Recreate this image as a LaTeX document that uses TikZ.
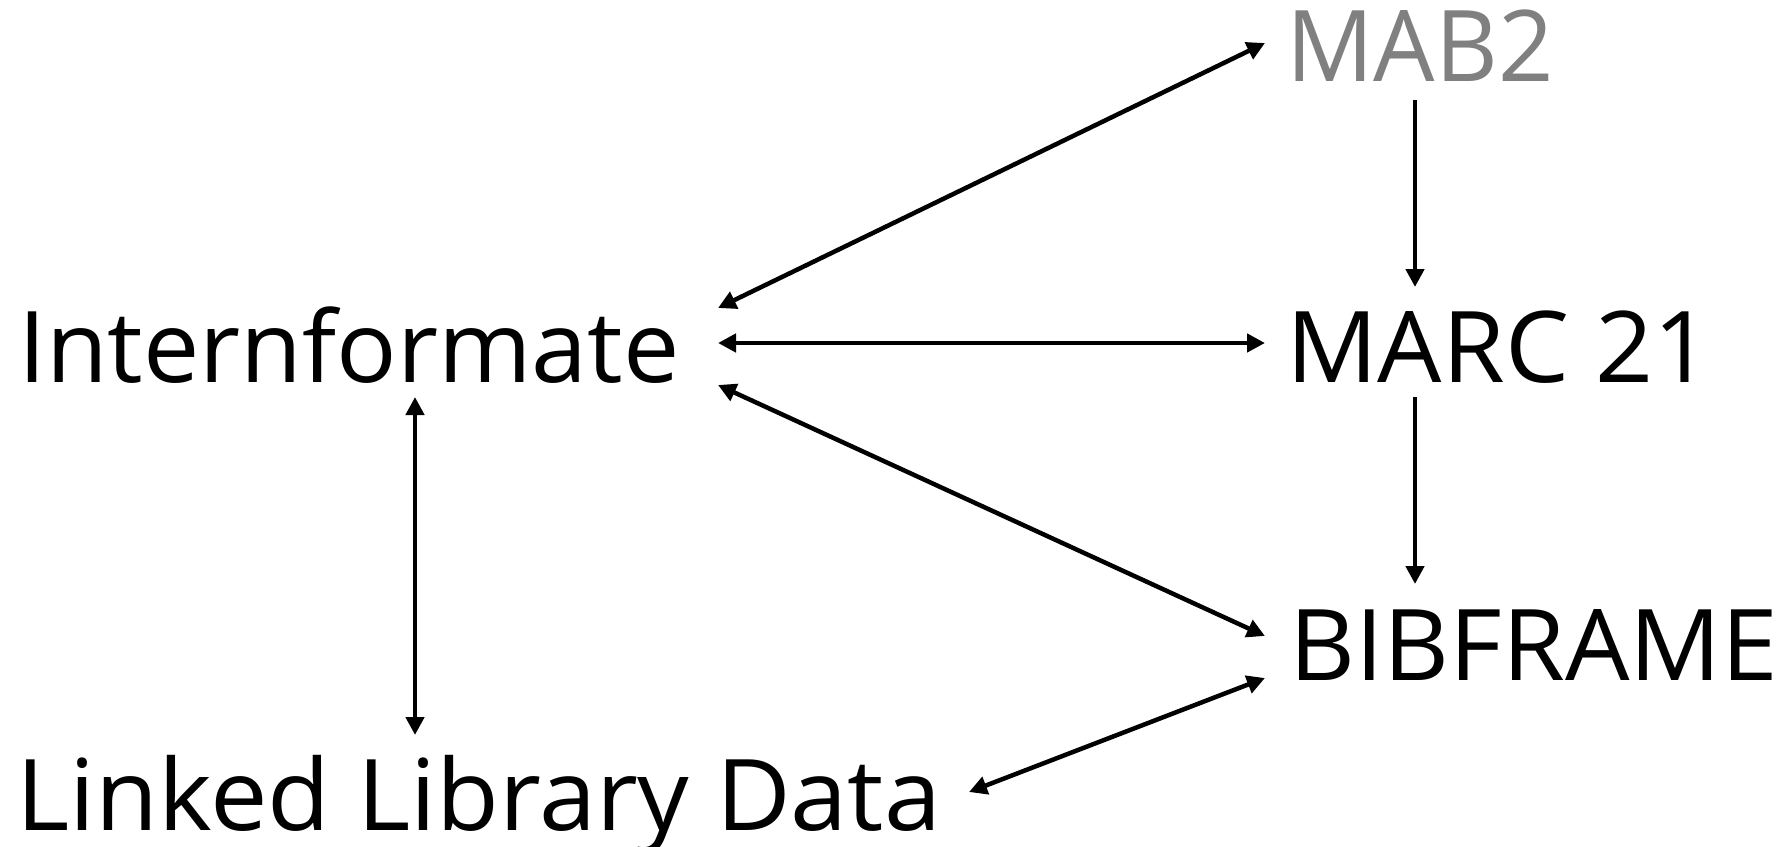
\documentclass[tikz,border=0pt]{standalone}
\usepackage{fontspec}
\usepackage{graphicx}
\setmainfont{Open Sans}
\usetikzlibrary{arrows.meta}
\begin{document}
\begin{tikzpicture}[x=1pt,y=-1pt,
  lbl/.style={anchor=base west,inner sep=0pt,font=\fontsize{99}{104}\selectfont},
  con/.style={line width=4.5pt,{Triangle[length=18pt,width=18pt]}-{Triangle[length=18pt,width=18pt]}},
  one/.style={line width=4.5pt,-{Triangle[length=18pt,width=18pt]}}]
\useasboundingbox (0,0) rectangle (1787,846);
\node[lbl] (int) at (18,382) {\scalebox{1.015}[1]{Internformate}};
\node[lbl,text=black!50] (mab) at (1286,81) {\scalebox{0.98}[1]{MAB2}};
\node[lbl] (marc) at (1286,382) {\scalebox{1.026}[1]{MARC 21}};
\node[lbl] (bib) at (1289,680) {\scalebox{1.029}[1]{BIBFRAME}};
\node[lbl] (lld) at (16,830) {\scalebox{1.036}[1]{Linked Library Data}};
\coordinate (i1) at (718,308);
\coordinate (i2) at (718,343);
\coordinate (i3) at (718,385);
\coordinate (i4) at (415,397);
\coordinate (m1) at (1265,43);
\coordinate (m2) at (1415,100);
\coordinate (c1) at (1265,343);
\coordinate (c2) at (1415,287);
\coordinate (c3) at (1415,397);
\coordinate (b1) at (1265,636);
\coordinate (b2) at (1415,584);
\coordinate (b3) at (1265,678);
\coordinate (l1) at (415,735);
\coordinate (l2) at (969,792);
\draw[con] (i1) -- (m1);
\draw[con] (i2) -- (c1);
\draw[con] (i3) -- (b1);
\draw[con] (i4) -- (l1);
\draw[con] (l2) -- (b3);
\draw[one] (m2) -- (c2);
\draw[one] (c3) -- (b2);
\end{tikzpicture}
\end{document}
